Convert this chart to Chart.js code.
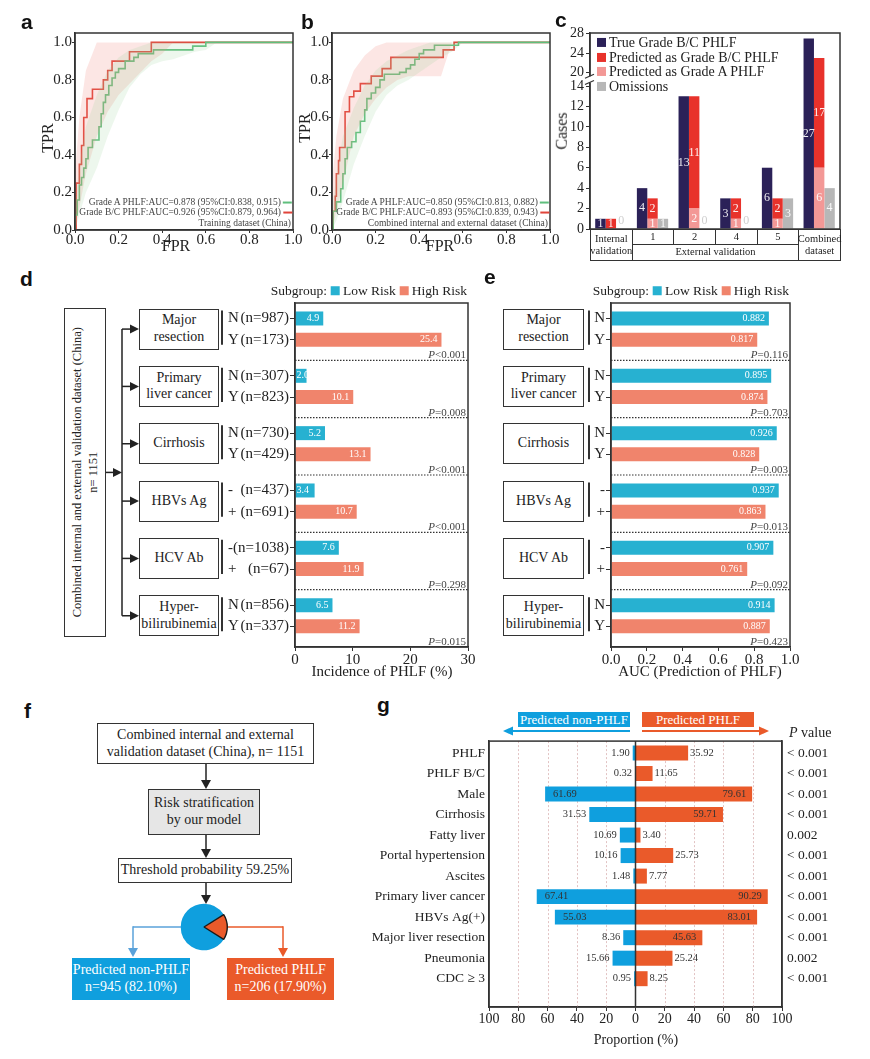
<!DOCTYPE html>
<html>
<head>
<meta charset="utf-8">
<title>PHLF risk figure</title>
<script src="https://cdn.jsdelivr.net/npm/chart.js@4.4.1/dist/chart.umd.min.js"></script>
<style>
  body { margin: 0; background: #fff; }
  #page { position: relative; width: 870px; height: 1059px; overflow: hidden;
          font-family: 'Liberation Serif', 'Times New Roman', serif; color: #222; }
  #page canvas { position: absolute; }
  .t { position: absolute; white-space: nowrap; line-height: 1.15; }
  .letter { position: absolute; font-family: 'Liberation Sans', Arial, sans-serif;
            font-weight: bold; font-size: 21px; color: #111; line-height: 1; }
  .box { position: absolute; box-sizing: border-box; border: 1.5px solid #333;
         display: flex; align-items: center; justify-content: center; text-align: center;
         line-height: 1.2; font-size: 14px; background: #fff; white-space: nowrap; }
  .sq { display: inline-block; width: 9px; height: 9px; margin: 0 3px 0 3px; vertical-align: 0px; }
</style>
</head>
<body>
<div id="page"></div>
<script>
// ---------------- data ----------------
// a / b : ROC curves (corner points of the step curves) and CI bands
const bandX = [0, 0.02, 0.05, 0.1, 0.15, 0.2, 0.25, 0.3, 0.35, 0.4, 0.45, 0.5, 0.55, 0.6, 0.65, 1];

const aGreenFpr = [0, 0, 0.01, 0.02, 0.03, 0.04, 0.05, 0.06, 0.08, 0.11, 0.12, 0.13, 0.14, 0.155, 0.17, 0.185, 0.2, 0.23, 0.27, 0.29, 0.36, 0.54, 0.6, 1];
const aGreenTpr = [0, 0.08, 0.16, 0.24, 0.28, 0.33, 0.38, 0.44, 0.48, 0.55, 0.62, 0.68, 0.72, 0.77, 0.81, 0.84, 0.86, 0.9, 0.92, 0.94, 0.96, 0.98, 1, 1];
const aRedFpr = [0, 0.005, 0.02, 0.03, 0.04, 0.055, 0.08, 0.13, 0.15, 0.17, 0.25, 0.35, 1];
const aRedTpr = [0, 0.25, 0.35, 0.45, 0.6, 0.7, 0.75, 0.8, 0.85, 0.9, 0.95, 1, 1];
const aGreenHi = [0.12, 0.35, 0.55, 0.72, 0.85, 0.92, 0.96, 0.98, 1, 1, 1, 1, 1, 1, 1, 1];
const aGreenLo = [0, 0.08, 0.2, 0.33, 0.5, 0.64, 0.76, 0.83, 0.88, 0.9, 0.91, 0.93, 0.95, 0.96, 1, 1];
const aRedHi = [0.3, 0.6, 0.85, 1, 1, 1, 1, 1, 1, 1, 1, 1, 1, 1, 1, 1];
const aRedLo = [0, 0.12, 0.3, 0.5, 0.63, 0.72, 0.78, 0.84, 0.9, 0.94, 1, 1, 1, 1, 1, 1];
const aLegend = ['Grade A PHLF:AUC=0.878 (95%CI:0.838, 0.915)', 'Grade B/C PHLF:AUC=0.926 (95%CI:0.879, 0.964)', 'Training dataset (China)'];

const bGreenFpr = [0, 0.005, 0.02, 0.04, 0.05, 0.06, 0.07, 0.09, 0.11, 0.13, 0.15, 0.16, 0.18, 0.2, 0.22, 0.24, 0.31, 0.34, 0.36, 0.38, 0.4, 0.42, 0.47, 0.58, 1];
const bGreenTpr = [0, 0.1, 0.15, 0.22, 0.3, 0.38, 0.44, 0.47, 0.52, 0.58, 0.64, 0.7, 0.73, 0.76, 0.8, 0.83, 0.84, 0.86, 0.88, 0.91, 0.94, 0.96, 0.985, 1, 1];
const bRedFpr = [0, 0.005, 0.015, 0.02, 0.03, 0.035, 0.06, 0.08, 0.1, 0.13, 0.18, 0.23, 0.27, 0.51, 0.56, 1];
const bRedTpr = [0, 0.1, 0.18, 0.3, 0.37, 0.44, 0.63, 0.71, 0.74, 0.78, 0.82, 0.86, 0.92, 0.96, 1, 1];
const bGreenHi = [0.1, 0.3, 0.5, 0.65, 0.77, 0.85, 0.9, 0.93, 0.96, 0.98, 1, 1, 1, 1, 1, 1];
const bGreenLo = [0, 0.05, 0.15, 0.35, 0.5, 0.63, 0.72, 0.77, 0.8, 0.84, 0.88, 0.92, 0.95, 1, 1, 1];
const bRedHi = [0.25, 0.5, 0.7, 0.85, 0.93, 0.98, 1, 1, 1, 1, 1, 1, 1, 1, 1, 1];
const bRedLo = [0, 0.1, 0.25, 0.5, 0.62, 0.7, 0.76, 0.8, 0.82, 0.82, 0.82, 0.82, 1, 1, 1, 1];
const bLegend = ['Grade A PHLF:AUC=0.850 (95%CI:0.813, 0.882)', 'Grade B/C PHLF:AUC=0.893 (95%CI:0.839, 0.943)', 'Combined internal and external dataset (China)'];

// c : case counts
const cGroups = ['Internal validation', '1', '2', '4', '5', 'Combined dataset'];
const cSuper = 'External validation';
const cTrue = [1, 4, 13, 3, 6, 27];
const cPredBC = [1, 2, 11, 2, 2, 17];
const cPredA = [0, 1, 2, 1, 1, 6];
const cOmit = [0, 1, 0, 0, 3, 4];
const cTickVals = [0, 2, 4, 6, 8, 10, 12, 14, 20, 24, 28];
const cSeries = ['True Grade B/C PHLF', 'Predicted as Grade B/C PHLF', 'Predicted as Grade A PHLF', 'Omissions'];

// d / e : subgroups
const subGroups = ['Major\nresection', 'Primary\nliver cancer', 'Cirrhosis', 'HBVs Ag', 'HCV Ab', 'Hyper-\nbilirubinemia'];
const lowSign = ['N', 'N', 'N', '-', '-', 'N'];
const highSign = ['Y', 'Y', 'Y', '+', '+', 'Y'];
const lowN = [987, 307, 730, 437, 1038, 856];
const highN = [173, 823, 429, 691, 67, 337];
const lowInc = [4.9, 2.0, 5.2, 3.4, 7.6, 6.5];
const highInc = [25.4, 10.1, 13.1, 10.7, 11.9, 11.2];
const pInc = ['P<0.001', 'P=0.008', 'P<0.001', 'P<0.001', 'P=0.298', 'P=0.015'];
const lowAuc = [0.882, 0.895, 0.926, 0.937, 0.907, 0.914];
const highAuc = [0.817, 0.874, 0.828, 0.863, 0.761, 0.887];
const pAuc = ['P=0.116', 'P=0.703', 'P=0.003', 'P=0.013', 'P=0.092', 'P=0.423'];

// f : risk stratification
const fCounts = [945, 206];
const fNames = ['Predicted non-PHLF', 'Predicted PHLF'];

// g : characteristics by predicted group
const gRows = ['PHLF', 'PHLF B/C', 'Male', 'Cirrhosis', 'Fatty liver', 'Portal hypertension', 'Ascites',
               'Primary liver cancer', 'HBVs Ag(+)', 'Major liver resection', 'Pneumonia', 'CDC \u2265 3'];
const gNon = [1.90, 0.32, 61.69, 31.53, 10.69, 10.16, 1.48, 67.41, 55.03, 8.36, 15.66, 0.95];
const gPhlf = [35.92, 11.65, 79.61, 59.71, 3.40, 25.73, 7.77, 90.29, 83.01, 45.63, 25.24, 8.25];
const gP = ['< 0.001', '< 0.001', '< 0.001', '< 0.001', '0.002', '< 0.001', '< 0.001', '< 0.001', '< 0.001', '< 0.001', '0.002', '< 0.001'];

// ---------------- helpers ----------------
const page = document.getElementById('page');
const SERIF = "'Liberation Serif', 'Times New Roman', serif";
Chart.defaults.font.family = SERIF;
Chart.defaults.color = '#222';

const GREEN = '#5fbf7d', RED = '#e0443a';
const C_NAVY = '#2b2158', C_RED = '#e8322b', C_PINK = '#f39896', C_GRAY = '#b7b7b7';
const LOW = '#27b1d1', HIGH = '#f0846c';
const BLUE = '#0f9fde', ORANGE = '#ea5a2a';

function mk(left, top, w, h) {
  const c = document.createElement('canvas');
  c.width = w; c.height = h;
  c.style.left = left + 'px'; c.style.top = top + 'px';
  c.style.width = w + 'px'; c.style.height = h + 'px';
  page.appendChild(c);
  return c.getContext('2d');
}
// page offset of a chart's canvas
const off = ch => ({ x: parseFloat(ch.canvas.style.left), y: parseFloat(ch.canvas.style.top) });
function put(html, x, y, align, css) {
  const d = document.createElement('div');
  d.className = 't';
  const tx = align === 'center' ? '-50%' : align === 'right' ? '-100%' : '0';
  d.style.cssText = `left:${x}px;top:${y}px;transform:translate(${tx},-50%);` + (css || '');
  d.innerHTML = html;
  page.appendChild(d);
  return d;
}
function letter(ch, x, y) {
  const d = document.createElement('div');
  d.className = 'letter'; d.textContent = ch;
  d.style.left = x + 'px'; d.style.top = y + 'px';
  page.appendChild(d);
}
function box(html, x, y, w, h, css) {
  const d = document.createElement('div');
  d.className = 'box';
  d.style.cssText = `left:${x}px;top:${y}px;width:${w}px;height:${h}px;` + (css || '');
  d.innerHTML = html;
  page.appendChild(d);
  return d;
}
let svg = '';
function seg(x1, y1, x2, y2, col, w) {
  svg += `<line x1="${x1}" y1="${y1}" x2="${x2}" y2="${y2}" stroke="${col}" stroke-width="${w}"/>`;
}
function arrow(x1, y1, x2, y2, col, w, len, half) {
  const L = Math.hypot(x2 - x1, y2 - y1), ux = (x2 - x1) / L, uy = (y2 - y1) / L;
  const bx = x2 - ux * len, by = y2 - uy * len;
  seg(x1, y1, bx + ux, by + uy, col, w);
  svg += `<polygon points="${x2},${y2} ${bx - uy * half},${by + ux * half} ${bx + uy * half},${by - ux * half}" fill="${col}"/>`;
}
const br = s => s.replace('\n', '<br>');

const frame = {
  id: 'frame',
  afterDraw(chart) {
    const a = chart.chartArea, c = chart.ctx;
    c.save(); c.strokeStyle = '#333'; c.lineWidth = 1.5;
    c.strokeRect(a.left, a.top, a.right - a.left, a.bottom - a.top);
    c.restore();
  }
};
const tickGrid = len => ({ drawOnChartArea: false, tickLength: len, color: '#333', offset: false });
const axisBorder = { color: '#333', width: 1.5 };

// ---------------- a / b : ROC ----------------
function roc(left, gF, gT, rF, rT, gHi, gLo, rHi, rLo, legend) {
  const ctx = mk(left, 21, 287, 239);
  const pts = (xs, ys) => xs.map((x, i) => ({ x: x, y: ys[i] }));
  const band = (hi, lo, col) => [
    { data: pts(bandX, hi), borderWidth: 0, pointRadius: 0, fill: false },
    { data: pts(bandX, lo), borderWidth: 0, pointRadius: 0, fill: '-1', backgroundColor: col }
  ];
  const ch = new Chart(ctx, {
    type: 'line',
    data: {
      datasets: [
        ...band(gHi, gLo, 'rgba(150,210,150,0.17)'),
        ...band(rHi, rLo, 'rgba(240,130,120,0.2)'),
        { data: pts(gF, gT), borderColor: GREEN, borderWidth: 1.6, pointRadius: 0, stepped: true, fill: false },
        { data: pts(rF, rT), borderColor: RED, borderWidth: 1.6, pointRadius: 0, stepped: true, fill: false }
      ]
    },
    options: {
      responsive: false, animation: false,
      layout: { padding: { top: 12, right: 14, left: 0, bottom: 0 } },
      scales: {
        x: {
          type: 'linear', min: 0, max: 1,
          afterBuildTicks: s => { s.ticks = [0, 0.2, 0.4, 0.6, 0.8, 1].map(v => ({ value: v })); },
          ticks: { callback: v => v.toFixed(1), font: { size: 15 }, padding: -2, maxRotation: 0 },
          grid: tickGrid(3), border: axisBorder,
          afterFit: s => { s.height = 30; }
        },
        y: {
          type: 'linear', min: 0, max: 1.05,
          afterBuildTicks: s => { s.ticks = [0, 0.2, 0.4, 0.6, 0.8, 1].map(v => ({ value: v })); },
          ticks: { callback: v => v.toFixed(1), font: { size: 15 }, padding: 0 },
          grid: tickGrid(3), border: axisBorder,
          afterFit: s => { s.width = 55; }
        }
      },
      plugins: { legend: { display: false }, tooltip: { enabled: false } }
    },
    plugins: [frame]
  });
  const a = ch.chartArea, o = off(ch);
  const lineSample = col => `<span style="display:inline-block;width:9px;height:1.6px;background:${col};vertical-align:middle;margin-left:2px"></span>`;
  const css = 'font-size:9.5px;color:#444';
  put(legend[0] + lineSample(GREEN), o.x + a.right - 1, o.y + a.bottom - 28, 'right', css);
  put(legend[1] + lineSample(RED), o.x + a.right - 1, o.y + a.bottom - 18, 'right', css);
  put(legend[2], o.x + a.right - 2, o.y + a.bottom - 7, 'right', css);
  return ch;
}
const chA = roc(20, aGreenFpr, aGreenTpr, aRedFpr, aRedTpr, aGreenHi, aGreenLo, aRedHi, aRedLo, aLegend);
const chB = roc(277, bGreenFpr, bGreenTpr, bRedFpr, bRedTpr, bGreenHi, bGreenLo, bRedHi, bRedLo, bLegend);
put('TPR', 48, 138, 'center', 'font-size:16px;transform:translate(-50%,-50%) rotate(-90deg)');
put('FPR', 176, 246, 'center', 'font-size:16px');
put('TPR', 305, 128, 'center', 'font-size:16px;transform:translate(-50%,-50%) rotate(-90deg)');
put('FPR', 440, 246, 'center', 'font-size:16px');

// ---------------- c : broken-axis bars ----------------
const T = v => (v <= 14 ? v : 15.3 + (v - 20) * 0.48);   // broken axis 14 | 20
const cLabels = {
  id: 'cLabels',
  afterDatasetsDraw(chart) {
    const ctx = chart.ctx, src = [cTrue, cPredA, cPredBC, cOmit];
    ctx.save();
    ctx.font = "12px " + SERIF; ctx.textAlign = 'center'; ctx.textBaseline = 'middle';
    chart.data.datasets.forEach((d, di) => {
      chart.getDatasetMeta(di).data.forEach((bar, i) => {
        const v = src[di][i];
        if (v === 0) {
          if (di === 1) return;
          ctx.fillStyle = '#cfcfcf'; ctx.fillText('0', bar.x, bar.base - 8);
          return;
        }
        ctx.fillStyle = 'rgba(255,255,255,0.92)';
        ctx.fillText(String(v), bar.x, (bar.y + bar.base) / 2);
      });
    });
    ctx.restore();
  }
};
const cBreak = {
  id: 'cBreak',
  afterDraw(chart) {
    const y = chart.scales.y, a = chart.chartArea, ctx = chart.ctx;
    const y1 = y.getPixelForValue(14.35), y2 = y.getPixelForValue(14.95);
    ctx.save();
    ctx.fillStyle = '#fff'; ctx.fillRect(a.left - 5, y2, 10, y1 - y2);
    ctx.strokeStyle = '#333'; ctx.lineWidth = 1.2;
    [y1, y2].forEach(yy => { ctx.beginPath(); ctx.moveTo(a.left - 5, yy + 2); ctx.lineTo(a.left + 4, yy - 2); ctx.stroke(); });
    ctx.restore();
  }
};
const barOpts = { categoryPercentage: 0.75, barPercentage: 1 };
const chC = new Chart(mk(540, 21, 312, 220), {
  type: 'bar',
  data: {
    labels: cGroups,
    datasets: [
      { label: cSeries[0], data: cTrue.map(T), backgroundColor: C_NAVY, stack: 't', ...barOpts },
      { label: cSeries[2], data: cPredA.map(T), backgroundColor: C_PINK, stack: 'p', ...barOpts },
      { label: cSeries[1], data: cPredBC.map((v, i) => T(v + cPredA[i]) - T(cPredA[i])), backgroundColor: C_RED, stack: 'p', ...barOpts },
      { label: cSeries[3], data: cOmit.map(T), backgroundColor: C_GRAY, stack: 'o', ...barOpts }
    ]
  },
  options: {
    responsive: false, animation: false,
    layout: { padding: { top: 12, right: 12, bottom: 12 } },
    scales: {
      x: { display: false, stacked: true },
      y: {
        stacked: true, min: 0, max: T(28) + 0.05,
        afterBuildTicks: s => { s.ticks = cTickVals.map(v => ({ value: T(v) })); },
        ticks: { callback: (v, i) => cTickVals[i], font: { size: 14 }, padding: 2, autoSkip: false },
        grid: tickGrid(4), border: axisBorder,
        afterFit: s => { s.width = 50; }
      }
    },
    plugins: { legend: { display: false }, tooltip: { enabled: false } }
  },
  plugins: [frame, cLabels, cBreak]
});
// legend c
[[C_NAVY, cSeries[0]], [C_RED, cSeries[1]], [C_PINK, cSeries[2]], [C_GRAY, cSeries[3]]].forEach((it, k) => {
  put(`<span class="sq" style="background:${it[0]};margin-left:0"></span>${it[1]}`, 597, 43 + k * 14.7, 'left', 'font-size:14px');
});
put('Cases', 562, 131, 'center', 'font-size:16px;transform:translate(-50%,-50%) rotate(-90deg)');
// table under c
(() => {
  const a = chC.chartArea, o = off(chC), cw = (a.right - a.left) / cGroups.length, top = o.y + a.bottom;
  const cell = 'border:1px solid #333;font-size:10.5px;line-height:1.15;';
  cGroups.forEach((g, i) => {
    const two = (i === 0 || i === cGroups.length - 1);
    box(g, o.x + a.left + i * cw, top, cw + 1, two ? 32 : 16, cell + (two ? 'white-space:normal;padding:0 1px;' : ''));
  });
  box(cSuper, o.x + a.left + cw, top + 15, cw * 4 + 1, 17, cell);
})();

// ---------------- d / e : subgroup bars ----------------
const sepPlugin = {
  id: 'sep',
  afterDatasetsDraw(chart, args, o) {
    const ys = chart.scales.y, a = chart.chartArea, ctx = chart.ctx;
    ctx.save();
    o.labels.forEach((t, g) => {
      const py = ys.getPixelForValue(g + 1);
      if (g < o.labels.length - 1) {
        ctx.strokeStyle = '#333'; ctx.lineWidth = 1.2; ctx.setLineDash([1.5, 1.5]);
        ctx.beginPath(); ctx.moveTo(a.left, py); ctx.lineTo(a.right, py); ctx.stroke();
      }
      ctx.setLineDash([]);
      ctx.fillStyle = '#444'; ctx.textBaseline = 'alphabetic'; ctx.textAlign = 'left';
      ctx.font = "11px " + SERIF;
      const rest = t.slice(1), wr = ctx.measureText(rest).width;
      ctx.fillText(rest, a.right - 2 - wr, py - 2);
      ctx.font = "italic 11px " + SERIF;
      const wp = ctx.measureText('P').width;
      ctx.fillText('P', a.right - 2 - wr - wp, py - 2);
    });
    ctx.restore();
  }
};
const valPlugin = {
  id: 'vals',
  afterDatasetsDraw(chart, args, o) {
    const ctx = chart.ctx;
    ctx.save();
    ctx.font = "10px " + SERIF; ctx.fillStyle = '#fff'; ctx.textBaseline = 'middle';
    chart.data.datasets.forEach((d, di) => chart.getDatasetMeta(di).data.forEach((bar, i) => {
      const txt = o.fmt(o.src[di][i]), w = ctx.measureText(txt).width;
      if (bar.x - bar.base > w + 8) { ctx.textAlign = 'right'; ctx.fillText(txt, bar.x - 4, bar.y); }
      else { ctx.textAlign = 'left'; ctx.fillText(txt, bar.base + 1, bar.y); }
    }));
    ctx.restore();
  }
};
const posLow = g => g + 0.27, posHigh = g => g + 0.64;
function subChart(left, width, yW, low, high, xMax, xStep, xFmt, valFmt, tickLbl, pLbls) {
  const tickPos = [];
  low.forEach((v, g) => { tickPos.push(posLow(g), posHigh(g)); });
  const ds = (arr, pos, col) => ({
    data: arr.map((v, g) => ({ x: v, y: pos(g) })), backgroundColor: col,
    grouped: false, maxBarThickness: 14
  });
  return new Chart(mk(left, 291, width, 381), {
    type: 'bar',
    data: { datasets: [ds(low, posLow, LOW), ds(high, posHigh, HIGH)] },
    options: {
      indexAxis: 'y', responsive: false, animation: false,
      layout: { padding: { top: 12, right: 14, left: 0, bottom: 0 } },
      scales: {
        x: {
          type: 'linear', min: 0, max: xMax,
          ticks: { stepSize: xStep, callback: xFmt, font: { size: 15 }, padding: 0, maxRotation: 0 },
          grid: tickGrid(4), border: axisBorder,
          afterFit: s => { s.height = 25; }
        },
        y: {
          type: 'linear', reverse: true, min: 0, max: 6, offset: false,
          afterBuildTicks: s => { s.ticks = tickPos.map(v => ({ value: v })); },
          ticks: { callback: (v, i) => tickLbl(i), font: { size: 15 }, padding: 1, autoSkip: false },
          grid: tickGrid(5), border: axisBorder,
          afterFit: s => { s.width = yW; }
        }
      },
      plugins: {
        legend: { display: false }, tooltip: { enabled: false },
        sep: { labels: pLbls }, vals: { src: [low, high], fmt: valFmt }
      }
    },
    plugins: [frame, sepPlugin, valPlugin]
  });
}
const chD = subChart(220, 262, 75, lowInc, highInc, 30, 10, v => v, v => v.toFixed(1),
  i => '(n=' + (i % 2 ? highN : lowN)[i >> 1] + ')', pInc);
const chE = subChart(589, 215, 22, lowAuc, highAuc, 1, 0.2, v => v.toFixed(1), v => v.toFixed(3),
  i => (i % 2 ? highSign : lowSign)[i >> 1], pAuc);

function subLegend(right, y) {
  put(`Subgroup:<span class="sq" style="background:${LOW};margin-left:4px"></span>Low Risk<span class="sq" style="background:${HIGH};margin-left:4px"></span>High Risk`,
      right, y, 'right', 'font-size:13.5px');
}
subLegend(467, 291);
subLegend(789, 291);
put('Incidence of PHLF (%)', 382, 672, 'center', 'font-size:15px');
put('AUC (Prediction of PHLF)', 700, 672, 'center', 'font-size:15px');

(() => {
  const ysD = chD.scales.y, ysE = chE.scales.y, oD = off(chD), oE = off(chE);
  const centers = [];
  subGroups.forEach((g, k) => {
    const cy = oD.y + ysD.getPixelForValue(k + 0.455);
    const cyE = oE.y + ysE.getPixelForValue(k + 0.455);
    centers.push(cy);
    box(br(g), 139, cy - 20.5, 80, 41);
    box(br(g), 503, cyE - 20.5, 81, 41);
    const yN = oD.y + ysD.getPixelForValue(posLow(k)), yY = oD.y + ysD.getPixelForValue(posHigh(k));
    const eN = oE.y + ysE.getPixelForValue(posLow(k)), eY = oE.y + ysE.getPixelForValue(posHigh(k));
    seg(222, yN - 8, 222, yY + 5, '#333', 2);
    seg(589, eN - 8, 589, eY + 5, '#333', 2);
    put(lowSign[k], 228, yN, 'left', 'font-size:15px');
    put(highSign[k], 228, yY, 'left', 'font-size:15px');
    arrow(122, cy, 139, cy, '#222', 1.5, 9, 4.5);
  });
  seg(122, centers[0], 122, centers[centers.length - 1], '#222', 1.5);
  const mid = (centers[0] + centers[centers.length - 1]) / 2;
  arrow(106, mid, 122, mid, '#222', 1.5, 9, 4.5);
  box(`<div style="transform:rotate(-90deg);white-space:nowrap;font-size:12.5px;line-height:1.3">Combined internal and external validation dataset (China)<br>n= ${fCounts[0] + fCounts[1]}</div>`,
      64, 308, 42, 329);
})();

// ---------------- f : flow + pie ----------------
const fTotal = fCounts[0] + fCounts[1];
const fPct = fCounts.map(n => (n / fTotal * 100).toFixed(2) + '%');
box(`Combined internal and external<br>validation dataset (China), n= ${fTotal}`, 97, 723, 217, 41);
box('Risk stratification<br>by our model', 148, 789, 112, 46, 'background:#e6e6e6');
box('Threshold probability 59.25%', 118, 858, 174, 25);
box(`${fNames[0]}<br>n=${fCounts[0]} (${fPct[0]})`, 72, 958, 118, 42, 'border:none;background:' + BLUE + ';color:#fff');
box(`${fNames[1]}<br>n=${fCounts[1]} (${fPct[1]})`, 227, 958, 107, 42, 'border:none;background:' + ORANGE + ';color:#fff');
arrow(206, 764, 206, 789, '#222', 1.5, 9, 5);
arrow(206, 835, 206, 858, '#222', 1.5, 9, 5);
arrow(206, 883, 206, 904, '#222', 1.5, 9, 5);
seg(181, 927, 133, 927, '#5aa2da', 1.5);
arrow(133, 926.3, 133, 957, '#5aa2da', 1.5, 9, 5);
seg(228, 927, 283, 927, ORANGE, 1.5);
arrow(283, 926.3, 283, 957, ORANGE, 1.5, 9, 5);
const fracPHLF = fCounts[1] / fTotal, fracNon = fCounts[0] / fTotal;
new Chart(mk(180, 903, 48, 48), {
  type: 'pie',
  data: {
    labels: fNames,
    datasets: [{
      data: fCounts, backgroundColor: [BLUE, ORANGE],
      borderColor: [BLUE, '#1a1a1a'], borderWidth: [0, 1.4]
    }]
  },
  options: {
    responsive: false, animation: false,
    rotation: 90 - fracPHLF * 180 - fracNon * 360 + 360,
    layout: { padding: 0 },
    plugins: { legend: { display: false }, tooltip: { enabled: false } }
  }
});

// ---------------- g : diverging bars ----------------
const gGrid = {
  id: 'gGrid',
  beforeDatasetsDraw(chart) {
    const xs = chart.scales.x, a = chart.chartArea, ctx = chart.ctx;
    ctx.save(); ctx.strokeStyle = '#e2c3c3'; ctx.lineWidth = 1; ctx.setLineDash([2, 2]);
    [-80, -60, -40, -20, 20, 40, 60, 80].forEach(v => {
      const px = Math.round(xs.getPixelForValue(v)) + 0.5;
      ctx.beginPath(); ctx.moveTo(px, a.top); ctx.lineTo(px, a.bottom); ctx.stroke();
    });
    ctx.restore();
  },
  afterDatasetsDraw(chart) {
    const xs = chart.scales.x, a = chart.chartArea, ctx = chart.ctx;
    ctx.save();
    const px = xs.getPixelForValue(0);
    ctx.strokeStyle = '#333'; ctx.lineWidth = 1.5;
    ctx.beginPath(); ctx.moveTo(px, a.top); ctx.lineTo(px, a.bottom); ctx.stroke();
    ctx.font = "10.5px " + SERIF; ctx.fillStyle = '#333'; ctx.textBaseline = 'middle';
    chart.getDatasetMeta(0).data.forEach((bar, i) => {
      const v = gNon[i];
      if (v > 50) { ctx.textAlign = 'left'; ctx.fillText(v.toFixed(2), bar.x + 8, bar.y); }
      else { ctx.textAlign = 'right'; ctx.fillText(v.toFixed(2), bar.x - 3, bar.y); }
    });
    chart.getDatasetMeta(1).data.forEach((bar, i) => {
      const v = gPhlf[i];
      if (v > 40) { ctx.textAlign = 'right'; ctx.fillText(v.toFixed(2), bar.x - 6, bar.y); }
      else { ctx.textAlign = 'left'; ctx.fillText(v.toFixed(2), bar.x + 2, bar.y); }
    });
    ctx.restore();
  }
};
const gBar = { grouped: false, categoryPercentage: 1, barPercentage: 0.73 };
const gRowTicks = s => { s.ticks = gRows.map((r, i) => ({ value: i })); };
new Chart(mk(364, 728, 506, 304), {
  type: 'bar',
  data: {
    datasets: [
      { label: fNames[0], data: gNon.map((v, i) => ({ x: -v, y: i })), backgroundColor: BLUE, ...gBar },
      { label: fNames[1], data: gPhlf.map((v, i) => ({ x: v, y: i })), backgroundColor: ORANGE, ...gBar }
    ]
  },
  options: {
    indexAxis: 'y', responsive: false, animation: false,
    layout: { padding: { top: 12, right: 0, left: 0, bottom: 0 } },
    scales: {
      x: {
        type: 'linear', min: -100, max: 100,
        ticks: { stepSize: 20, callback: v => Math.abs(v), font: { size: 14 }, padding: 0, maxRotation: 0 },
        grid: tickGrid(4), border: axisBorder,
        afterFit: s => { s.height = 25; }
      },
      y: {
        type: 'linear', reverse: true, min: -0.58, max: 12.38, offset: false,
        afterBuildTicks: gRowTicks,
        ticks: { callback: (v, i) => gRows[i], font: { size: 13.5 }, padding: 4, autoSkip: false },
        grid: { display: false, drawTicks: false, offset: false }, border: axisBorder,
        afterFit: s => { s.width = 125; }
      },
      y2: {
        type: 'linear', position: 'right', reverse: true, min: -0.58, max: 12.38, offset: false,
        afterBuildTicks: gRowTicks,
        ticks: { callback: (v, i) => gP[i], font: { size: 13.5 }, padding: 5, autoSkip: false },
        grid: { display: false, drawTicks: false, offset: false }, border: axisBorder,
        afterFit: s => { s.width = 88; }
      }
    },
    plugins: { legend: { display: false }, tooltip: { enabled: false } }
  },
  plugins: [gGrid, frame]
});
box(fNames[0], 518, 712, 112, 15, 'border:none;background:' + BLUE + ';color:#fff;font-size:13px');
box(fNames[1], 642, 712, 112, 15, 'border:none;background:' + ORANGE + ';color:#fff;font-size:13px');
arrow(630, 731, 503, 731, BLUE, 1.8, 10, 4.5);
arrow(642, 731, 769, 731, ORANGE, 1.8, 10, 4.5);
put('<i>P</i> value', 789, 733, 'left', 'font-size:14px');
put('Proportion (%)', 636, 1040, 'center', 'font-size:14px');

// ---------------- panel letters + connectors ----------------
letter('a', 21, 11); letter('b', 301, 11); letter('c', 555, 9);
letter('d', 20, 268); letter('e', 484, 266);
letter('f', 24, 700); letter('g', 377, 694);
page.insertAdjacentHTML('beforeend',
  `<svg width="870" height="1059" style="position:absolute;left:0;top:0;pointer-events:none">${svg}</svg>`);
</script>
</body>
</html>
